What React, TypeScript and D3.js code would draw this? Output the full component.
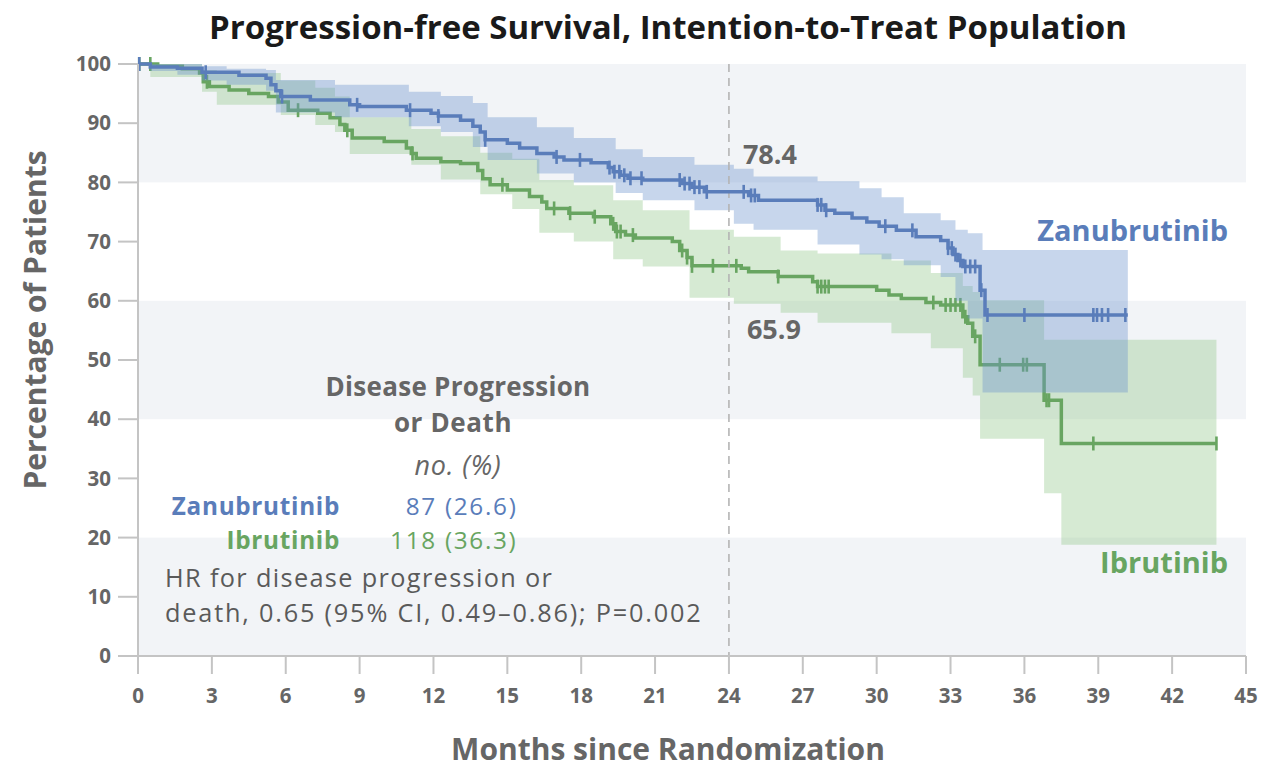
import React from "react";
import * as d3 from "d3";

// ---- axis ticks ----
const monthTicks = [0, 3, 6, 9, 12, 15, 18, 21, 24, 27, 30, 33, 36, 39, 42, 45];
const pctTicks = [0, 10, 20, 30, 40, 50, 60, 70, 80, 90, 100];
const shadedBands: [number, number][] = [[0, 20], [40, 60], [80, 100]];

// ---- Zanubrutinib: Kaplan-Meier steps (months, % event-free) ----
const zanuTimes = [0, 0.5, 1.6, 2.6, 4.1, 5.2, 5.4, 5.6, 5.8, 7.0, 8.6, 9.0, 10.9, 11.9, 12.2, 13.1, 13.6, 13.9, 14.1, 15.0, 15.5, 16.2, 16.9, 17.3, 18.4, 19.1, 19.3, 19.6, 19.9, 20.5, 22.1, 22.5, 23.0, 24.8, 25.2, 27.6, 27.9, 28.3, 29.0, 29.6, 30.1, 30.8, 31.6, 32.6, 32.9, 33.1, 33.3, 33.5, 34.2, 34.4];
const zanuSurv = [100, 99.5, 99.3, 98.6, 98.1, 97.6, 96.5, 95.5, 94.5, 93.9, 93.1, 92.8, 92.2, 91.7, 91.2, 90.5, 89.5, 88.5, 87.2, 86.6, 85.8, 84.9, 84.3, 83.8, 83.3, 82.5, 81.8, 81.2, 80.7, 80.4, 79.8, 79.2, 78.4, 77.8, 77.0, 76.2, 75.3, 74.8, 74.0, 73.3, 72.6, 71.9, 70.8, 70.2, 68.9, 67.8, 66.8, 65.8, 61.8, 57.6];
const zanuEnd = 40.2;
const zanuCensored = [0.05, 2.75, 5.85, 8.9, 11.05, 12.2, 14.1, 17.0, 17.95, 19.15, 19.35, 19.55, 19.75, 20.0, 20.45, 22.0, 22.2, 22.4, 22.6, 22.8, 23.1, 24.6, 24.9, 25.05, 27.6, 27.75, 27.95, 30.35, 31.45, 32.9, 33.05, 33.2, 33.4, 33.6, 33.8, 34.0, 34.25, 34.5, 36.0, 38.8, 38.95, 39.15, 39.4, 40.1];
// 95% confidence band
const zanuBandTimes = [0, 0.5, 1.6, 2.6, 3.6, 5.2, 5.6, 8.0, 11.0, 12.3, 13.6, 14.2, 16.2, 17.7, 19.4, 20.5, 22.6, 24.2, 25.0, 27.6, 29.3, 30.2, 31.1, 32.6, 33.2, 33.7, 34.3];
const zanuLower = [100, 98.8, 98.2, 97.2, 96.5, 95.5, 91.8, 91.0, 89.5, 88.5, 86.0, 83.8, 81.5, 80.0, 78.2, 77.0, 75.3, 73.0, 72.0, 69.5, 67.8, 67.0, 66.0, 64.0, 60.0, 57.0, 44.5];
const zanuUpper = [100, 100, 100, 99.6, 99.2, 99.0, 97.3, 96.5, 95.3, 94.6, 93.4, 91.0, 89.3, 87.5, 85.6, 84.3, 83.0, 82.3, 81.0, 80.2, 79.0, 77.5, 74.8, 73.6, 72.0, 71.4, 68.6];

// ---- Ibrutinib: Kaplan-Meier steps ----
const ibruTimes = [0, 0.8, 1.8, 2.5, 2.65, 2.9, 3.7, 4.5, 5.3, 5.7, 6.1, 7.3, 7.8, 8.2, 8.4, 8.7, 10.0, 10.9, 11.1, 11.3, 12.3, 13.1, 13.8, 14.0, 14.3, 15.0, 15.9, 16.4, 16.6, 17.5, 18.5, 19.2, 19.4, 19.8, 20.2, 21.7, 22.0, 22.3, 22.5, 24.5, 24.8, 26.0, 27.4, 27.6, 30.0, 30.5, 31.0, 32.0, 32.6, 33.5, 33.7, 33.9, 34.2, 36.8, 37.5];
const ibruSurv = [100, 99.6, 99.2, 98.5, 97.0, 96.2, 95.6, 95.0, 94.5, 93.6, 92.2, 91.7, 90.9, 89.8, 88.8, 87.5, 86.9, 85.8, 84.9, 84.1, 83.5, 83.2, 82.0, 80.6, 79.6, 78.7, 77.6, 76.7, 75.6, 74.8, 74.2, 73.0, 71.7, 71.1, 70.6, 70.0, 68.5, 67.3, 65.9, 65.5, 64.9, 64.1, 63.2, 62.4, 61.8, 61.0, 60.4, 59.7, 59.3, 57.3, 56.2, 54.0, 49.2, 43.2, 35.9];
const ibruEnd = 43.8;
const ibruCensored = [0.05, 0.5, 2.8, 6.5, 8.5, 11.15, 14.8, 16.9, 17.55, 18.55, 19.3, 19.45, 19.6, 20.1, 22.1, 22.3, 22.5, 23.35, 24.3, 26.0, 27.6, 27.75, 27.9, 28.05, 32.3, 32.8, 33.0, 33.2, 33.4, 33.6, 34.0, 35.0, 35.95, 36.1, 36.9, 37.0, 38.8, 43.8];
const ibruBandTimes = [0, 0.5, 2.6, 3.2, 5.8, 7.2, 8.0, 8.6, 11.1, 12.3, 13.9, 15.2, 16.3, 17.7, 19.3, 20.5, 22.4, 24.2, 26.1, 27.6, 30.6, 32.2, 33.5, 33.9, 34.2, 36.8, 37.5];
const ibruLower = [100, 97.8, 95.3, 93.1, 91.4, 89.7, 88.5, 84.8, 83.0, 80.5, 78.0, 75.5, 71.5, 70.0, 67.0, 65.8, 60.5, 59.5, 58.0, 56.3, 54.5, 52.0, 47.0, 44.0, 36.7, 27.5, 18.8];
const ibruUpper = [100, 100, 99.0, 98.5, 97.2, 96.0, 94.5, 91.0, 89.0, 87.8, 85.0, 84.0, 80.4, 79.5, 77.0, 75.3, 72.0, 70.8, 68.5, 68.0, 66.8, 64.7, 62.5, 61.5, 60.1, 53.4, 53.4];

// ---- landmark annotation ----
const landmarkMonth = 24;
const landmarkZanu = 78.4;
const landmarkIbru = 65.9;

// ---- event summary table ----
const armNames = ["Zanubrutinib", "Ibrutinib"];
const armEvents = [87, 118];
const armEventPct = [26.6, 36.3];

const BLUE = "#5a7dba";
const GREEN = "#68a561";
const armColors = [BLUE, GREEN];
const GREY_TEXT = "#666666";
const FONT = "'Open Sans', Lato, sans-serif";

const W = 1288;
const H = 769;

const x = d3.scaleLinear().domain([0, 45]).range([138, 1246]);
const y = d3.scaleLinear().domain([0, 100]).range([656, 64]);

type Pt = [number, number];
type BandPt = { t: number; lo: number; hi: number };

function stepPoints(times: number[], vals: number[], end: number): Pt[] {
  const pts: Pt[] = times.map((t, i) => [t, vals[i]]);
  pts.push([end, vals[vals.length - 1]]);
  return pts;
}

function bandPoints(times: number[], lo: number[], hi: number[], end: number): BandPt[] {
  const pts = times.map((t, i) => ({ t, lo: lo[i], hi: hi[i] }));
  pts.push({ t: end, lo: lo[lo.length - 1], hi: hi[hi.length - 1] });
  return pts;
}

function survivalAt(times: number[], vals: number[], t: number): number {
  const i = d3.bisectRight(times, t) - 1;
  return vals[Math.max(0, i)];
}

const line = d3
  .line<Pt>()
  .x((d) => x(d[0]))
  .y((d) => y(d[1]))
  .curve(d3.curveStepAfter);

const area = d3
  .area<BandPt>()
  .x((d) => x(d.t))
  .y0((d) => y(d.lo))
  .y1((d) => y(d.hi))
  .curve(d3.curveStepAfter);

function Arm({
  times,
  surv,
  end,
  censored,
  color,
}: {
  times: number[];
  surv: number[];
  end: number;
  censored: number[];
  color: string;
}) {
  return (
    <g>
      <path d={line(stepPoints(times, surv, end)) || ""} fill="none" stroke={color} strokeWidth={3.5} />
      {censored.map((t, i) => {
        const cy = y(survivalAt(times, surv, t));
        return <line key={i} x1={x(t)} x2={x(t)} y1={cy - 7} y2={cy + 7} stroke={color} strokeWidth={2.6} />;
      })}
    </g>
  );
}

export default function App() {
  const [x0, x1] = x.range();
  return (
    <svg
      width={W}
      height={H}
      viewBox={`0 0 ${W} ${H}`}
      style={{ position: "absolute", left: 0, top: 0, background: "#ffffff" }}
      fontFamily={FONT}
    >
      <rect x={0} y={0} width={W} height={H} fill="#ffffff" />

      {/* alternating background bands */}
      {shadedBands.map(([a, b], i) => (
        <rect key={i} x={x0} width={x1 - x0} y={y(b)} height={y(a) - y(b)} fill="#f2f4f7" />
      ))}

      {/* Ibrutinib band and curve */}
      <path d={area(bandPoints(ibruBandTimes, ibruLower, ibruUpper, ibruEnd)) || ""} fill="#8cc485" fillOpacity={0.36} />
      <Arm times={ibruTimes} surv={ibruSurv} end={ibruEnd} censored={ibruCensored} color={GREEN} />

      {/* Zanubrutinib band */}
      <path d={area(bandPoints(zanuBandTimes, zanuLower, zanuUpper, zanuEnd)) || ""} fill="#6d92cc" fillOpacity={0.38} />

      {/* 24-month landmark */}
      <line
        x1={x(landmarkMonth)}
        x2={x(landmarkMonth)}
        y1={y(100)}
        y2={y(0)}
        stroke="#b4b4b4"
        strokeWidth={1.6}
        strokeDasharray="8 6"
      />

      <Arm times={zanuTimes} surv={zanuSurv} end={zanuEnd} censored={zanuCensored} color={BLUE} />

      {/* axes */}
      <line x1={x0} x2={x0} y1={y(100)} y2={y(0)} stroke="#c4c4c4" strokeWidth={2} />
      <line x1={x0} x2={x1} y1={y(0)} y2={y(0)} stroke="#c4c4c4" strokeWidth={2} />
      {pctTicks.map((v) => (
        <g key={v}>
          <line x1={x0 - 20} x2={x0} y1={y(v)} y2={y(v)} stroke="#c4c4c4" strokeWidth={2} />
          <text x={x0 - 27} y={y(v)} dy="0.35em" textAnchor="end" fontSize={20.5} fontWeight={700} fill={GREY_TEXT}>
            {v}
          </text>
        </g>
      ))}
      {monthTicks.map((m) => (
        <g key={m}>
          <line x1={x(m)} x2={x(m)} y1={y(0)} y2={y(0) + 18} stroke="#c4c4c4" strokeWidth={2} />
          <text x={x(m)} y={y(0) + 40} dy="0.35em" textAnchor="middle" fontSize={20.5} fontWeight={700} fill={GREY_TEXT}>
            {m}
          </text>
        </g>
      ))}

      {/* titles */}
      <text x={668} y={27} dy="0.35em" textAnchor="middle" fontSize={33} fontWeight={700} fill="#1a1a1a">
        Progression-free Survival, Intention-to-Treat Population
      </text>
      <text
        transform="translate(35, 320) rotate(-90)"
        dy="0.35em"
        textAnchor="middle"
        fontSize={30}
        fontWeight={700}
        fill={GREY_TEXT}
      >
        Percentage of Patients
      </text>
      <text x={668} y={749} dy="0.35em" textAnchor="middle" fontSize={30} fontWeight={700} fill={GREY_TEXT}>
        Months since Randomization
      </text>

      {/* landmark values */}
      <text x={x(landmarkMonth) + 14} y={155} dy="0.35em" fontSize={27} fontWeight={700} fill={GREY_TEXT}>
        {landmarkZanu.toFixed(1)}
      </text>
      <text x={x(landmarkMonth) + 18} y={330} dy="0.35em" fontSize={27} fontWeight={700} fill={GREY_TEXT}>
        {landmarkIbru.toFixed(1)}
      </text>

      {/* curve labels */}
      <text x={1228} y={231} dy="0.35em" textAnchor="end" fontSize={29} fontWeight={700} fill={BLUE}>
        {armNames[0]}
      </text>
      <text x={1228} y={563} dy="0.35em" textAnchor="end" fontSize={29} fontWeight={700} fill={GREEN}>
        {armNames[1]}
      </text>

      {/* event summary */}
      <text x={458} y={386.5} dy="0.35em" textAnchor="middle" fontSize={26} fontWeight={700} letterSpacing={0.3} fill={GREY_TEXT}>
        Disease Progression
      </text>
      <text x={453} y={422.5} dy="0.35em" textAnchor="middle" fontSize={26} fontWeight={700} letterSpacing={0.6} fill={GREY_TEXT}>
        or Death
      </text>
      <text x={458} y={466} dy="0.35em" textAnchor="middle" fontSize={27} letterSpacing={0.8} fontStyle="italic" fill={GREY_TEXT}>
        no. (%)
      </text>
      {armNames.map((n, i) => (
        <g key={n} fill={armColors[i]}>
          <text x={340} y={506 + i * 34} dy="0.35em" textAnchor="end" fontSize={24.3} fontWeight={700} letterSpacing={0.7}>
            {n}
          </text>
          <text x={517.5} y={506 + i * 34} dy="0.35em" textAnchor="end" fontSize={24.3} letterSpacing={1.7}>
            {`${armEvents[i]} (${armEventPct[i].toFixed(1)})`}
          </text>
        </g>
      ))}
      <text x={165} y={578} dy="0.35em" fontSize={25.3} letterSpacing={1.35} fill="#5a5a5a">
        HR for disease progression or
      </text>
      <text x={165} y={613} dy="0.35em" fontSize={25.3} letterSpacing={1.8} fill="#5a5a5a">
        death, 0.65 (95% CI, 0.49–0.86); P=0.002
      </text>
    </svg>
  );
}
